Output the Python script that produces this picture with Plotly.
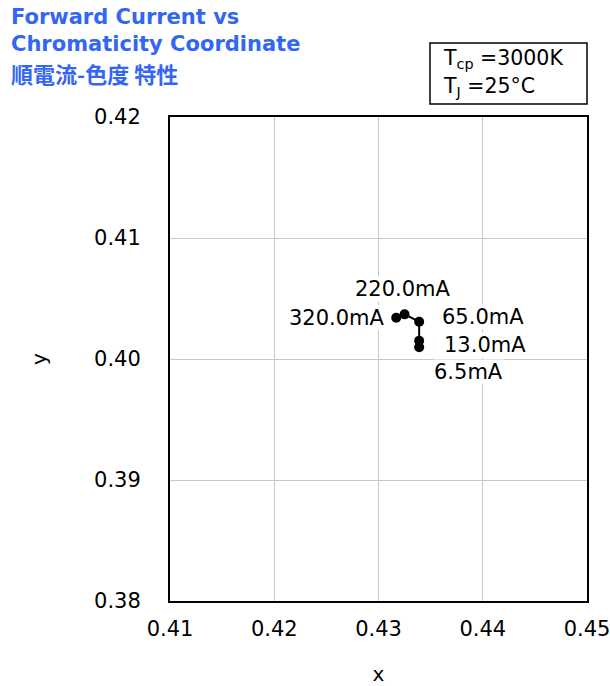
import plotly.graph_objects as go

currents = ["320.0mA", "220.0mA", "65.0mA", "13.0mA", "6.5mA"]
cx = [0.4317, 0.4325, 0.4339, 0.4339, 0.4339]
cy = [0.40341, 0.40369, 0.40308, 0.40151, 0.40097]
x_ticks = [0.41, 0.42, 0.43, 0.44, 0.45]
y_ticks = [0.38, 0.39, 0.40, 0.41, 0.42]

W, H = 610, 686
L, R, T, B = 170, 587, 117, 601
pw, ph = R - L, B - T

def px(xp):
    return (xp - L) / pw

def py(yp):
    return (B - yp) / ph

FONT = "DejaVu Sans, Verdana, sans-serif"

fig = go.Figure()
fig.add_trace(go.Scatter(
    x=cx, y=cy, mode="lines+markers",
    line=dict(color="black", width=2),
    marker=dict(color="black", size=10),
    hoverinfo="skip", showlegend=False,
))

label_pos = {
    "320.0mA": dict(ax=-10, ay=0, xanchor="right", yanchor="middle"),
    "220.0mA": dict(ax=-2, ay=-25, xanchor="center", yanchor="middle"),
    "65.0mA": dict(ax=22, ay=-5, xanchor="left", yanchor="middle"),
    "13.0mA": dict(ax=24, ay=4, xanchor="left", yanchor="middle"),
    "6.5mA": dict(ax=14, ay=25, xanchor="left", yanchor="middle"),
}
for lbl, x, y in zip(currents, cx, cy):
    p = label_pos[lbl]
    fig.add_annotation(
        x=x, y=y, xref="x", yref="y", text=lbl, showarrow=True,
        arrowcolor="rgba(0,0,0,0)", ax=p["ax"], ay=p["ay"],
        xanchor=p["xanchor"], yanchor=p["yanchor"],
        bgcolor="white", borderpad=0,
        font=dict(family=FONT, size=21, color="black"),
    )

title_color = "#3366f5"
fig.add_annotation(xref="paper", yref="paper", x=px(9), y=py(17), text="<b>Forward Current vs</b>",
                   showarrow=False, xanchor="left", yanchor="middle",
                   font=dict(family=FONT, size=21, color=title_color))
fig.add_annotation(xref="paper", yref="paper", x=px(9), y=py(44), text="<b>Chromaticity Coordinate</b>",
                   showarrow=False, xanchor="left", yanchor="middle",
                   font=dict(family=FONT, size=21, color=title_color))
fig.add_annotation(xref="paper", yref="paper", x=px(9), y=py(73), text="<b>順電流-色度 特性</b>",
                   showarrow=False, xanchor="left", yanchor="middle",
                   font=dict(family="Noto Sans CJK JP, " + FONT, size=22, color=title_color))

fig.add_shape(type="rect", xref="paper", yref="paper",
              x0=px(430), x1=px(587), y0=py(104), y1=py(43),
              line=dict(color="black", width=1.5), fillcolor="white")
fig.add_annotation(xref="paper", yref="paper", x=px(441), y=py(59), text="T<sub>cp</sub> =3000K",
                   showarrow=False, xanchor="left", yanchor="middle",
                   font=dict(family=FONT, size=20.5, color="black"))
fig.add_annotation(xref="paper", yref="paper", x=px(441), y=py(87), text="T<sub>J</sub> =25°C",
                   showarrow=False, xanchor="left", yanchor="middle",
                   font=dict(family=FONT, size=20.5, color="black"))

fig.update_layout(
    width=W, height=H, autosize=False,
    margin=dict(l=L, r=W - R, t=T, b=H - B),
    paper_bgcolor="white", plot_bgcolor="white",
    font=dict(family=FONT, size=21, color="black"),
    xaxis=dict(range=[0.41, 0.45], tickvals=x_ticks, ticktext=[f"{v:.2f}" for v in x_ticks],
               showgrid=True, gridcolor="#c8c8c8", gridwidth=1, zeroline=False,
               showline=True, linecolor="black", linewidth=2, mirror=True, automargin=False,
               ticks="", ticklabelstandoff=8, ticklabeloverflow="allow",
               title=dict(text="x", standoff=30, font=dict(size=20))),
    yaxis=dict(range=[0.38, 0.42], tickvals=y_ticks, ticktext=[f"{v:.2f}" for v in y_ticks],
               showgrid=True, gridcolor="#c8c8c8", gridwidth=1, zeroline=False,
               showline=True, linecolor="black", linewidth=2, mirror=True, automargin=False,
               ticks="", ticklabelstandoff=23, ticklabeloverflow="allow",
               title=dict(text="y", standoff=42, font=dict(size=20))),
)

fig.write_html(
    "out.html",
    config={"displayModeBar": False, "responsive": False},
    post_script="document.body.style.margin='0';document.body.style.overflow='hidden';",
)
